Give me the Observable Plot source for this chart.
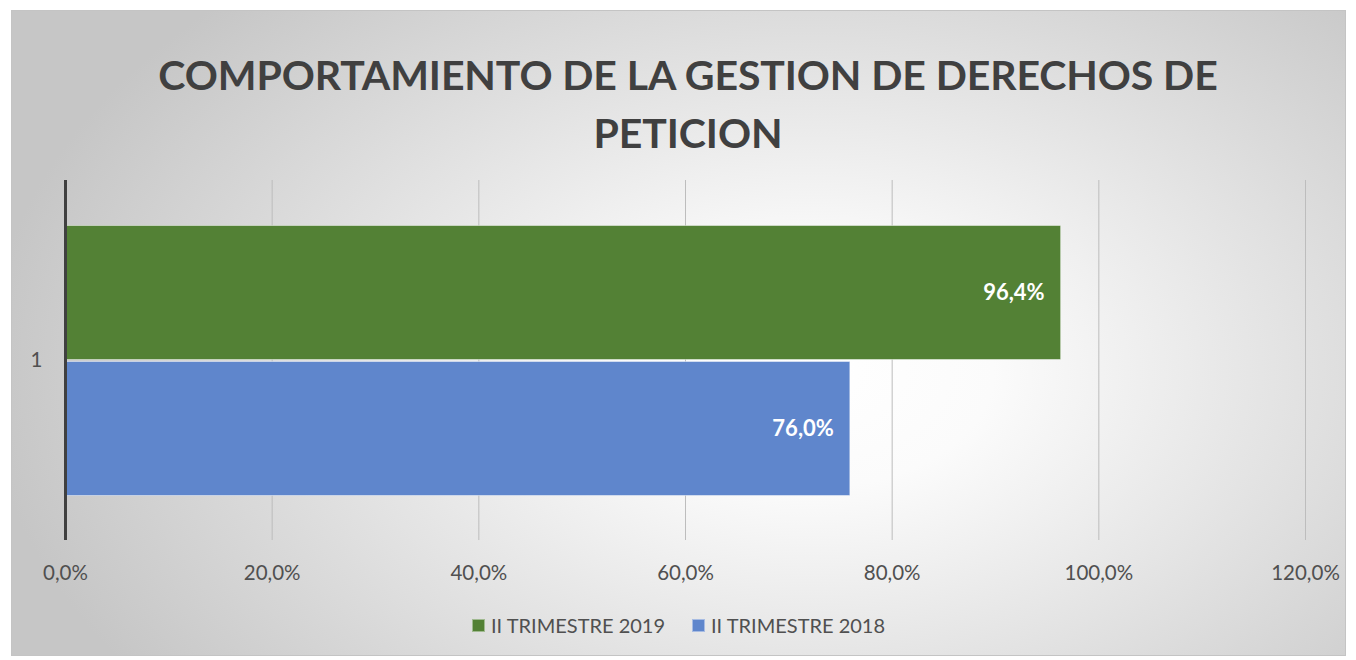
<!DOCTYPE html>
<html><head><meta charset="utf-8">
<script src="https://cdn.jsdelivr.net/npm/d3@7"></script>
<script src="https://cdn.jsdelivr.net/npm/@observablehq/plot@0.6"></script>
<style>
html,body{margin:0;padding:0;background:#fff;}
#wrap{position:relative;width:1356px;height:660px;overflow:hidden;font-family:Lato,"Open Sans",sans-serif;}
#frame{position:absolute;left:11px;top:10px;width:1333px;height:644px;border:1px solid #c4c4c4;
  background:radial-gradient(ellipse 62% 82% at 60% 56%, #ffffff 0%, #fbfbfb 22%, #c6c6c6 100%);}
#title{position:absolute;left:10px;width:1356px;top:46px;text-align:center;font-weight:700;font-size:41px;line-height:58px;color:#404040;letter-spacing:-0.1px;}
#chart{position:absolute;left:0;top:165px;}
#legend{position:absolute;left:0;top:0;}
.item{position:absolute;top:613px;display:flex;align-items:center;font-size:20px;color:#505050;white-space:nowrap;height:24px;}
.sw{width:11px;height:11px;margin-right:6px;border:1px solid rgba(255,255,255,0.45);}
</style></head>
<body>
<div id="wrap">
  <div id="frame"></div>
  <div id="title">COMPORTAMIENTO DE LA GESTION DE DERECHOS DE<br>PETICION</div>
  <div id="chart"></div>
  <div id="legend"></div>
</div>
<script>
const categories = ["1"];
const series = ["II TRIMESTRE 2019", "II TRIMESTRE 2018"];
const values = [96.4, 76.0];
const colors = ["#538135", "#5f86cc"];
const tickValues = [0, 20, 40, 60, 80, 100, 120];

const fmt = d => d.toFixed(1).replace(".", ",") + "%";
const data = series.map((s, i) => ({category: categories[0], series: s, value: values[i]}));

const chart = Plot.plot({
  width: 1356,
  height: 495,
  marginTop: 15,
  marginBottom: 120,
  marginLeft: 65,
  marginRight: 51,
  style: {fontFamily: "Lato, 'Open Sans', sans-serif", fontSize: "20.5px", color: "#505050", background: "transparent", overflow: "visible"},
  x: {domain: [0, 120], ticks: tickValues, tickFormat: fmt, tickSize: 0, tickPadding: 25, label: null, line: false},
  y: {domain: series, axis: null, paddingInner: 0.01, paddingOuter: 0.324},
  fy: {domain: categories, axis: "left", padding: 0, tickSize: 0, tickPadding: 23, label: null},
  color: {domain: series, range: colors},
  marks: [
    Plot.ruleX(tickValues.filter(t => t > 0), {stroke: "#bdbdbd", strokeWidth: 1}),
    Plot.barX(data, {x: "value", y: "series", fy: "category", fill: "series", stroke: "#ffffff", strokeOpacity: 0.45, strokeWidth: 1, inset: 0.5}),
    Plot.text(data, {x: "value", y: "series", fy: "category", text: d => fmt(d.value), textAnchor: "end", dx: -17, fill: "white", fontWeight: "bold", fontSize: 22}),
    Plot.ruleX([0], {stroke: "#404040", strokeWidth: 3})
  ]
});
document.getElementById("chart").appendChild(chart);

const legendPos = [472, 692];
const legend = document.getElementById("legend");
series.forEach((s, i) => {
  const it = document.createElement("div");
  it.className = "item";
  it.style.left = legendPos[i] + "px";
  const sw = document.createElement("span");
  sw.className = "sw";
  sw.style.background = colors[i];
  it.appendChild(sw);
  const t = document.createElement("span");
  t.textContent = s;
  it.appendChild(t);
  legend.appendChild(it);
});
</script>
</body></html>
